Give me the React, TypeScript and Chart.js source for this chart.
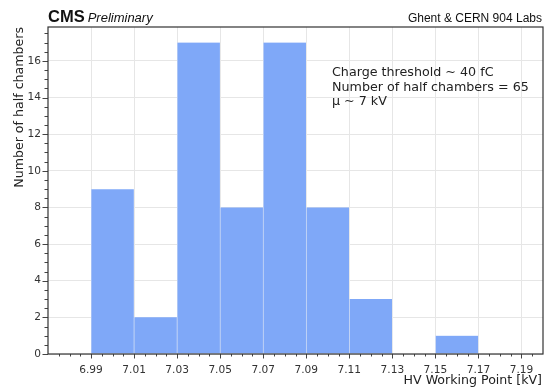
import React, { useEffect, useRef } from "react";
import { Chart, registerables } from "chart.js";

Chart.register(...registerables);

// Histogram data: bin lower edges (kV) and counts
const binStarts = [6.99, 7.01, 7.03, 7.05, 7.07, 7.09, 7.11, 7.13, 7.15];
const counts = [9, 2, 17, 8, 17, 8, 3, 0, 1];
const binWidth = 0.02;

const xMajorTicks = [6.99, 7.01, 7.03, 7.05, 7.07, 7.09, 7.11, 7.13, 7.15, 7.17, 7.19];
const yMajorTicks = [0, 2, 4, 6, 8, 10, 12, 14, 16];
const xMin = 6.97;
const xMax = 7.2;
const yMin = 0;
const yMax = 17.85;

const xTitle = "HV Working Point [kV]";
const yTitle = "Number of half chambers";
const annotationLines = ["Charge threshold ~ 40 fC", "Number of half chambers = 65", "\u03bc ~ 7 kV"];
const labText = "Ghent & CERN 904 Labs";

const DEJAVU = '"DejaVu Sans", sans-serif';
const LIB = '"Liberation Sans", Arial, sans-serif';

const overlay = {
  id: "overlay",
  afterDraw(chart: any) {
    const { ctx, chartArea: a, scales } = chart;
    const x = scales.x;
    const y = scales.y;
    ctx.save();
    ctx.strokeStyle = "#444";
    ctx.lineWidth = 1;
    // x ticks
    for (let i = 0; i * 0.005 + xMin <= xMax + 1e-9; i++) {
      const v = xMin + i * 0.005;
      const isMajor = xMajorTicks.some((t) => Math.abs(t - v) < 1e-6);
      const px = Math.round(x.getPixelForValue(v)) + 0.5;
      if (px <= a.left + 1 || px >= a.right - 1) continue;
      ctx.beginPath();
      ctx.moveTo(px, a.bottom);
      ctx.lineTo(px, a.bottom + (isMajor ? 4.5 : 2.5));
      ctx.stroke();
    }
    // y ticks
    for (let i = 0; i * 0.5 + yMin <= yMax + 1e-9; i++) {
      const v = yMin + i * 0.5;
      const isMajor = yMajorTicks.some((t) => Math.abs(t - v) < 1e-6);
      const py = Math.round(y.getPixelForValue(v)) + 0.5;
      ctx.beginPath();
      ctx.moveTo(a.left, py);
      ctx.lineTo(a.left - (isMajor ? 5.5 : 3.5), py);
      ctx.stroke();
    }
    // frame
    ctx.strokeStyle = "#333";
    ctx.lineWidth = 1.2;
    ctx.strokeRect(a.left, a.top, a.right - a.left, a.bottom - a.top);

    // CMS label
    ctx.fillStyle = "#111";
    ctx.textBaseline = "alphabetic";
    ctx.textAlign = "left";
    ctx.font = `bold 16.5px ${LIB}`;
    ctx.fillText("CMS", 48, 22);
    const cmsW = ctx.measureText("CMS").width;
    ctx.font = `italic 13px ${LIB}`;
    ctx.fillText("Preliminary", 48 + cmsW + 3, 22);
    ctx.font = `12px ${LIB}`;
    ctx.textAlign = "right";
    ctx.fillText(labText, 542, 22);

    // annotation
    ctx.fillStyle = "#222";
    ctx.textAlign = "left";
    ctx.font = `12.7px ${DEJAVU}`;
    annotationLines.forEach((t, i) => ctx.fillText(t, 332, 76 + i * 14.5));

    // axis titles
    ctx.font = `12.6px ${DEJAVU}`;
    ctx.textAlign = "right";
    ctx.fillText(xTitle, 542, 384);
    ctx.save();
    ctx.translate(23, 27);
    ctx.rotate(-Math.PI / 2);
    ctx.textAlign = "right";
    ctx.fillText(yTitle, 0, 0);
    ctx.restore();
    ctx.restore();
  },
};

export default function App() {
  const ref = useRef<HTMLCanvasElement | null>(null);
  useEffect(() => {
    if (!ref.current) return;
    const data = binStarts.map((s, i) => ({ x: s + binWidth / 2, y: counts[i] }));
    const chart = new Chart(ref.current, {
      type: "bar",
      data: {
        datasets: [
          {
            data,
            backgroundColor: "#7fa8f8",
            borderColor: "rgba(255,255,255,0.45)",
            borderWidth: { left: 0.6, right: 0.6, top: 0, bottom: 0 },
            borderSkipped: false,
            barPercentage: 1,
            categoryPercentage: 1,
            grouped: false,
          } as any,
        ],
      },
      options: {
        animation: false,
        responsive: false,
        events: [],
        layout: { padding: { left: 0, right: 6, top: 27, bottom: 0 } },
        plugins: { legend: { display: false }, tooltip: { enabled: false }, title: { display: false } },
        scales: {
          x: {
            type: "linear",
            min: xMin,
            max: xMax,
            offset: false,
            grid: { offset: false, color: "#e6e6e6", lineWidth: 1, drawTicks: false },
            border: { display: false },
            afterBuildTicks: (s: any) => {
              s.ticks = xMajorTicks.map((v) => ({ value: v }));
            },
            afterFit: (s: any) => {
              s.height = 35;
            },
            ticks: {
              padding: 10,
              color: "#333",
              font: { family: DEJAVU, size: 10.6 },
              maxRotation: 0,
              autoSkip: false,
              callback: (v: any) => Number(v).toFixed(2),
            },
          },
          y: {
            type: "linear",
            min: yMin,
            max: yMax,
            grid: { color: "#e6e6e6", lineWidth: 1, drawTicks: false },
            border: { display: false },
            afterBuildTicks: (s: any) => {
              s.ticks = yMajorTicks.map((v) => ({ value: v }));
            },
            afterFit: (s: any) => {
              s.width = 48;
            },
            ticks: {
              padding: 7,
              color: "#333",
              font: { family: DEJAVU, size: 10.6 },
              autoSkip: false,
            },
          },
        },
      } as any,
      plugins: [overlay],
    });
    return () => chart.destroy();
  }, []);
  return (
    <div style={{ position: "fixed", left: 0, top: 0, width: 549, height: 389, background: "#fff" }}>
      <canvas ref={ref} width={549} height={389} style={{ width: 549, height: 389, display: "block" }} />
    </div>
  );
}
